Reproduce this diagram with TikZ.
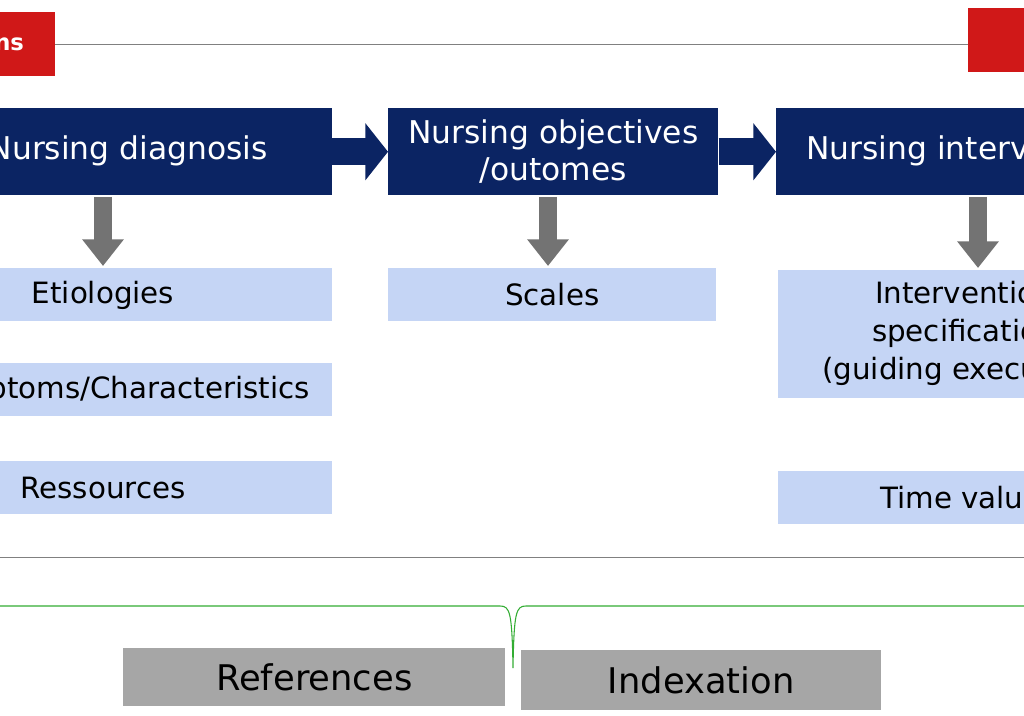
\documentclass[tikz,border=0pt]{standalone}
\usepackage{fontspec}
\setmainfont{DejaVu Sans}
\usetikzlibrary{arrows.meta}
\definecolor{navy}{HTML}{0B2463}
\definecolor{lblue}{HTML}{C5D5F5}
\definecolor{gbox}{HTML}{A6A6A6}
\definecolor{red1}{HTML}{D01818}
\begin{document}
\begin{tikzpicture}[x=0.75pt,y=-0.75pt,
  dfont/.style={font=\fontsize{23.5}{28}\selectfont},
  lfont/.style={font=\fontsize{22}{28.5}\selectfont},
  dark/.style={fill=navy,text=white,dfont,inner sep=0,align=center},
  light/.style={fill=lblue,text=black,lfont,inner sep=0,align=center},
  grey/.style={fill=gbox,text=black,font=\fontsize{26.5}{30}\selectfont,inner sep=0},
  big/.style={navy,line width=20pt,-{Triangle[length=17pt,width=42pt]}},
  down/.style={gray!90!black,line width=14pt,-{Triangle[length=20pt,width=30pt]}}]
\useasboundingbox (0,0) rectangle (1024,716);
\clip (0,0) rectangle (1024,716);
\fill[white] (0,0) rectangle (1024,716);
% top line and red boxes
\node[fill=red1,minimum width=0.75*100pt,minimum height=0.75*64pt,anchor=north east,inner sep=0] (rl) at (55,12) {};
\node[text=white,font=\bfseries\fontsize{17}{20}\selectfont,anchor=west,inner sep=0] (rlt) at (-6,44) {ns};
\node[fill=red1,minimum width=0.75*100pt,minimum height=0.75*64pt,anchor=north west,inner sep=0] (rr) at (968,8) {};
\draw[gray] (rl.east) -- (rr.west |- rl.east);
% dark boxes
\node[dark,minimum width=0.75*440pt,minimum height=0.75*87pt,anchor=north east] (d1) at (332,108) {};
\node[text=white,dfont,anchor=east,inner sep=0] (d1t) at (268,151) {Nursing diagnosis};
\node[dark,minimum width=0.75*330pt,minimum height=0.75*87pt,anchor=north west] (d2) at (388,108) {Nursing objectives\\/outomes};
\node[dark,minimum width=0.75*330pt,minimum height=0.75*87pt,anchor=north west] (d3) at (776,108) {};
\node[text=white,dfont,anchor=west,inner sep=0] (d3t) at (806,151) {Nursing interventions};
\draw[big] (d1.east) -- (d2.west);
\draw[big] (d2.east) -- (d3.west);
% light boxes
\node[light,minimum width=0.75*440pt,minimum height=0.75*53pt,anchor=north east] (e1) at (332,268) {};
\node[lfont,inner sep=0] (e1t) at (103,295) {Etiologies};
\node[light,minimum width=0.75*440pt,minimum height=0.75*53pt,anchor=north east] (e2) at (332,363) {};
\node[lfont,inner sep=0,anchor=east] (e2t) at (310,390) {Symptoms/Characteristics};
\node[light,minimum width=0.75*440pt,minimum height=0.75*53pt,anchor=north east] (e3) at (332,461) {};
\node[lfont,inner sep=0] (e3t) at (103,488) {Ressources};
\node[light,minimum width=0.75*328pt,minimum height=0.75*53pt,anchor=north west] (s1) at (388,268) {Scales};
\node[light,minimum width=0.75*360pt,minimum height=0.75*128pt,anchor=north west] (i1) at (778,270) {};
\node[lfont,inner sep=0,align=center,anchor=north west] (i1t) at (822,281) {Intervention\\specification\\(guiding execution)};
\node[light,minimum width=0.75*360pt,minimum height=0.75*53pt,anchor=north west] (i2) at (778,471) {};
\node[lfont,inner sep=0,anchor=west] (i2t) at (880,498) {Time value};
\draw[down] (103,197) -- (103,266);
\draw[down] (548,197) -- (548,266);
\draw[down] (978,197) -- (978,268);
% bottom
\draw[gray] (0,557) -- (1024,557);
\draw[green!60!black!80,thick] (0,606) -- (500,606) .. controls (510,606) and (512,612) .. (513,668) .. controls (514,612) and (516,606) .. (526,606) -- (1024,606);
\node[grey,minimum width=0.75*382pt,minimum height=0.75*58pt,anchor=north west] (r1) at (123,648) {References};
\node[grey,minimum width=0.75*360pt,minimum height=0.75*60pt,anchor=north west] (r2) at (521,650) {Indexation};
\end{tikzpicture}
\end{document}
